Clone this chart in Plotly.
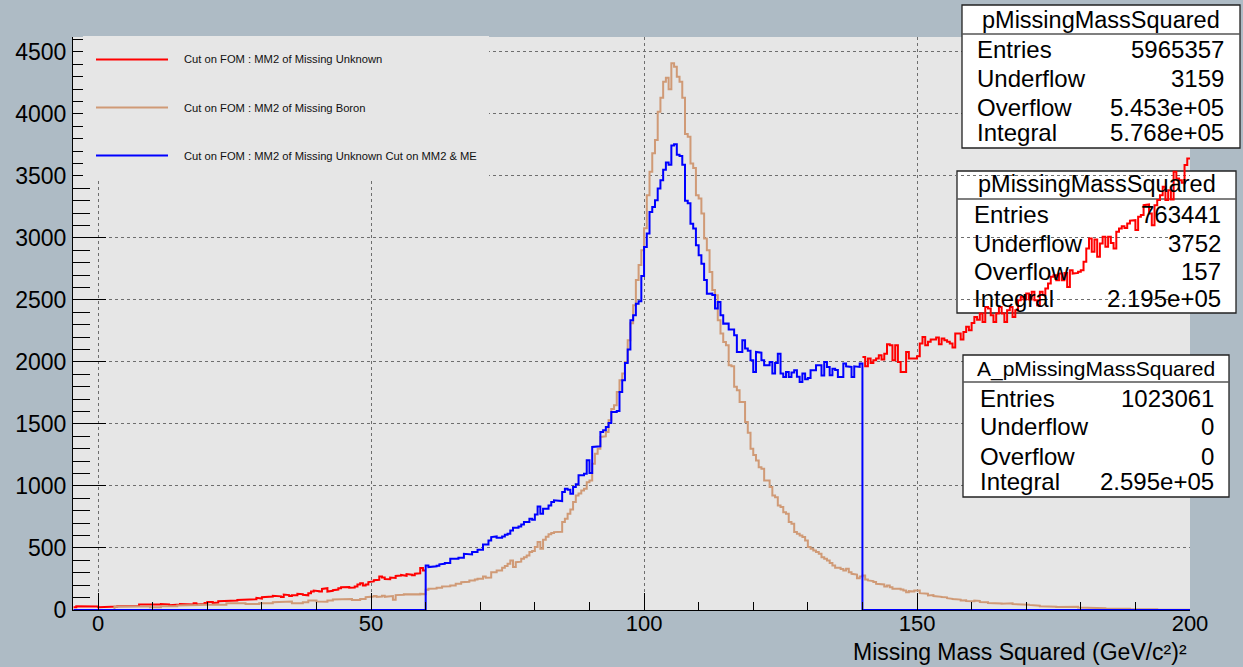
import plotly.graph_objects as go

# ---------------- data (bin contents, 0.5 GeV^2 bins starting at -4.5) ----------------
BIN_LO = -4.5
BIN_W = 0.5

# red: "Cut on FOM : MM2 of Missing Unknown" -- visible part below 60 and above 140
red_low = [
    22, 30, 33, 33, 30, 30, 30, 28, 28, 22,
    22, 22, 22, 22, 24, 28, 30, 30, 36, 36,
    33, 33, 30, 33, 44, 41, 38, 38, 41, 41,
    44, 44, 48, 48, 44, 38, 38, 44, 44, 48,
    48, 46, 44, 44, 55, 44, 44, 48, 57, 65,
    65, 57, 60, 71, 71, 74, 76, 73, 76, 76,
    81, 87, 81, 84, 84, 87, 87, 98, 92, 103,
    103, 103, 108, 114, 114, 110, 105, 125, 120, 112,
    119, 119, 130, 128, 122, 118, 135, 150, 157, 152,
    150, 170, 176, 149, 155, 160, 165, 175, 184, 189,
    186, 180, 182, 189, 205, 216, 197, 205, 225, 230,
    240, 244, 271, 262, 250, 248, 262, 258, 275, 278,
    282, 276, 290, 285, 280, 292, 296, 338, 318,
]
red_high = [
    2040, 1965, 2027, 1992, 2014, 2027, 2054, 2019, 2067, 2143,
    2135, 2014, 2135, 2000, 1919, 1919, 2081, 2027, 2027, 2027,
    2046, 2148, 2202, 2135, 2162, 2180, 2180, 2197, 2143, 2189,
    2175, 2162, 2148, 2116, 2229, 2229, 2180, 2242, 2283, 2256,
    2315, 2363, 2340, 2390, 2323, 2444, 2431, 2377, 2323, 2390,
    2444, 2390, 2323, 2417, 2444, 2363, 2417, 2498, 2525, 2503,
    2552, 2503, 2565, 2498, 2457, 2565, 2540, 2592, 2632, 2686,
    2700, 2659, 2713, 2659, 2718, 2605, 2740, 2713, 2718, 2727,
    2740, 2807, 2915, 2995, 2888, 2987, 2848, 2955, 3009, 2928,
    3009, 2960, 2915, 3049, 3076, 3095, 3080, 3117, 3140, 3143,
    3063, 3170, 3184, 3264, 3270, 3197, 3103, 3264, 3305, 3345,
    3412, 3305, 3385, 3310, 3533, 3480, 3466, 3445, 3587, 3641,
]
RED_GAP_BINS = 160  # 60..140 hidden under the blue histogram

# brown: "Cut on FOM : MM2 of Missing Boron" (all 409 bins)
brown_counts = [
    0, 0, 0, 0, 0, 0, 0, 0, 0, 0,
    0, 0, 0, 0, 0, 28, 30, 31, 29, 30,
    31, 30, 28, 30, 29, 31, 30, 29, 22, 22,
    22, 23, 30, 30, 31, 30, 29, 30, 36, 35,
    36, 37, 36, 35, 41, 41, 42, 40, 41, 44,
    44, 44, 41, 40, 41, 42, 55, 55, 54, 55,
    56, 55, 54, 49, 49, 48, 50, 49, 55, 55,
    54, 56, 55, 63, 63, 64, 62, 63, 68, 68,
    55, 56, 55, 54, 63, 63, 76, 75, 77, 68,
    68, 69, 67, 76, 76, 84, 83, 84, 85, 84,
    89, 89, 81, 82, 80, 89, 88, 103, 104, 109,
    112, 105, 109, 114, 106, 110, 112, 82, 120, 125,
    123, 127, 122, 125, 128, 124, 126, 130, 128, 163,
    171, 168, 174, 179, 180, 190, 188, 192, 198, 198,
    211, 211, 224, 224, 228, 238, 238, 245, 252, 252,
    271, 260, 262, 305, 305, 319, 319, 340, 355, 373,
    400, 346, 386, 390, 413, 426, 440, 467, 475, 507,
    548, 494, 566, 590, 610, 620, 628, 628, 630, 709,
    736, 776, 810, 870, 924, 940, 964, 978, 1031, 1045,
    1180, 1260, 1301, 1395, 1400, 1435, 1529, 1620, 1650, 1758,
    1852, 1906, 2000, 2175, 2312, 2457, 2660, 2782, 2900, 3078,
    3345, 3533, 3682, 3789, 4017, 4130, 4259, 4291, 4198, 4408,
    4380, 4300, 4259, 4130, 3837, 3815, 3600, 3563, 3345, 3318,
    3197, 2995, 2901, 2726, 2580, 2538, 2336, 2229, 2161, 2135,
    1973, 1965, 1800, 1771, 1677, 1677, 1516, 1430, 1300, 1250,
    1206, 1150, 1139, 1045, 1045, 991, 924, 910, 843, 830,
    789, 776, 709, 695, 628, 615, 601, 588, 561, 507,
    494, 480, 467, 453, 426, 413, 399, 378, 359, 340,
    340, 330, 319, 332, 305, 292, 286, 257, 270, 278,
    246, 238, 233, 225, 211, 206, 206, 190, 198, 184,
    171, 175, 171, 165, 157, 144, 152, 150, 157, 157,
    136, 131, 131, 117, 120, 112, 109, 106, 104, 102,
    95, 90, 88, 82, 84, 77, 79, 72, 71, 70,
    77, 74, 65, 63, 62, 57, 58, 55, 56, 52,
    50, 50, 55, 54, 48, 44, 45, 42, 42, 43,
    41, 40, 35, 35, 30, 31, 33, 33, 28, 27,
    25, 22, 23, 22, 22, 21, 23, 27, 20, 16,
    18, 19, 17, 19, 16, 17, 15, 14, 13, 14,
    16, 13, 11, 14, 12, 10, 11, 9, 12, 10,
    8, 9, 7, 8, 9, 6, 7, 5, 6, 7,
    5, 6, 4, 5, 6, 4, 5, 4, 3,
]

# blue: "Cut on FOM : MM2 of Missing Unknown Cut on MM2 & ME" -- non-zero from 60 to 140
blue_counts = [
    359, 346, 352, 352, 357, 368, 373, 378, 378, 413,
    413, 413, 421, 421, 453, 453, 448, 467, 467, 486,
    486, 529, 529, 561, 588, 593, 583, 583, 593, 607,
    615, 642, 663, 663, 674, 690, 709, 709, 736, 728,
    771, 835, 776, 817, 817, 843, 870, 884, 878, 878,
    951, 978, 970, 938, 991, 1013, 1086, 1086, 1099, 1207,
    1105, 1314, 1320, 1320, 1435, 1449, 1476, 1508, 1597, 1597,
    1605, 1758, 1852, 1992, 2100, 2336, 2376, 2470, 2489, 2693,
    2927, 3035, 3210, 3250, 3304, 3398, 3466, 3550, 3609, 3590,
    3745, 3755, 3670, 3660, 3590, 3300, 3280, 3115, 3075, 2941,
    2860, 2792, 2660, 2550, 2551, 2540, 2430, 2484, 2377, 2309,
    2310, 2261, 2261, 2215, 2081, 2081, 2175, 2108, 2090, 2013,
    1919, 2081, 2075, 2013, 1973, 1973, 2000, 1906, 1992, 2067,
    1906, 1879, 1919, 1879, 1915, 1933, 1880, 1839, 1906, 1860,
    1870, 1933, 1933, 1973, 1973, 1890, 2000, 1960, 1892, 1946,
    1935, 1879, 1879, 1987, 1965, 1960, 1879, 1965, 1960, 1987,
]
BLUE_ZERO_BEFORE = 129
BLUE_ZERO_AFTER = 120

legend_labels = [
    "Cut on FOM : MM2 of Missing Unknown",
    "Cut on FOM : MM2 of Missing Boron",
    "Cut on FOM : MM2 of Missing Unknown Cut on MM2 & ME",
]

stats_titles = ["pMissingMassSquared", "pMissingMassSquared", "A_pMissingMassSquared"]
stats_keys = ["Entries", "Underflow", "Overflow", "Integral"]
stats_values = [
    ["5965357", "3159", "5.453e+05", "5.768e+05"],
    ["763441", "3752", "157", "2.195e+05"],
    ["1023061", "0", "0", "2.595e+05"],
]

x_title = "Missing Mass Squared (GeV/c²)²"

# ---------------- helpers ----------------
W, H = 1243, 667
ML, MR, MT, MB = 73, 53, 37, 57
PW = W - ML - MR
PH = H - MT - MB
FONT = "Liberation Sans, Arial, Helvetica, sans-serif"


def pxx(xp):
    return (xp - ML) / PW


def pxy(yp):
    return (H - MB - yp) / PH


def steps(vals):
    xs, ys = [], []
    for i, v in enumerate(vals):
        lo = BIN_LO + i * BIN_W
        if v is None:
            xs.append(None)
            ys.append(None)
            continue
        xs += [lo, lo + BIN_W]
        ys += [v, v]
    return xs, ys


red_full = red_low + [None] * RED_GAP_BINS + red_high
blue_full = [0] * BLUE_ZERO_BEFORE + blue_counts + [0] * BLUE_ZERO_AFTER

RED = "#ff0000"
BROWN = "rgb(208,154,118)"
BLUE = "#0000ff"

fig = go.Figure()
for vals, col, name in [(red_full, RED, legend_labels[0]),
                        (brown_counts, BROWN, legend_labels[1]),
                        (blue_full, BLUE, legend_labels[2])]:
    xs, ys = steps(vals)
    fig.add_trace(go.Scatter(x=xs, y=ys, mode="lines", name=name,
                             line=dict(color=col, width=2),
                             cliponaxis=False, showlegend=False,
                             hoverinfo="skip"))

shapes = []
annotations = []

# legend (drawn manually, ROOT style)
shapes.append(dict(type="rect", xref="paper", yref="paper",
                   x0=pxx(83), x1=pxx(489), y0=pxy(178), y1=pxy(36),
                   fillcolor="#e6e6e6", line=dict(width=0), layer="above"))
leg_y = [59.5, 107.5, 155.5]
for lab, col, yy in zip(legend_labels, [RED, BROWN, BLUE], leg_y):
    shapes.append(dict(type="line", xref="paper", yref="paper",
                       x0=pxx(96), x1=pxx(168), y0=pxy(yy), y1=pxy(yy),
                       line=dict(color=col, width=2), layer="above"))
    annotations.append(dict(text=lab, xref="paper", yref="paper",
                            x=pxx(182), y=pxy(yy), xanchor="left", yanchor="middle",
                            showarrow=False, font=dict(family=FONT, size=11.2, color="#111")))

# stats boxes
boxes = [
    dict(x0=962, x1=1240, y0=5, y1=148, sep=34, ty=20, rows=[49, 78, 107, 133],
         lx=975, rx=1226, layer="above", tsize=23.5),
    dict(x0=957, x1=1236, y0=171, y1=313, sep=199, ty=184, rows=[214, 243, 271, 298],
         lx=972, rx=1223, layer="between", tsize=23.5),
    dict(x0=963, x1=1229, y0=355, y1=497, sep=382, ty=369, rows=[398, 427, 456, 481],
         lx=978, rx=1216, layer="above", tsize=21),
]
for b, title, vals in zip(boxes, stats_titles, stats_values):
    shapes.append(dict(type="rect", xref="paper", yref="paper",
                       x0=pxx(b["x0"]), x1=pxx(b["x1"]), y0=pxy(b["y1"]), y1=pxy(b["y0"]),
                       fillcolor="white", line=dict(color="#222", width=1.3), layer=b["layer"]))
    shapes.append(dict(type="line", xref="paper", yref="paper",
                       x0=pxx(b["x0"]), x1=pxx(b["x1"]), y0=pxy(b["sep"]), y1=pxy(b["sep"]),
                       line=dict(color="#555", width=1.3), layer=b["layer"]))
    annotations.append(dict(text=title, xref="paper", yref="paper",
                            x=pxx((b["x0"] + b["x1"]) / 2), y=pxy(b["ty"]),
                            xanchor="center", yanchor="middle", showarrow=False,
                            font=dict(family=FONT, size=b["tsize"], color="black")))
    for key, val, ry in zip(stats_keys, vals, b["rows"]):
        annotations.append(dict(text=key, xref="paper", yref="paper",
                                x=pxx(b["lx"]), y=pxy(ry), xanchor="left", yanchor="middle",
                                showarrow=False, font=dict(family=FONT, size=24, color="black")))
        annotations.append(dict(text=val, xref="paper", yref="paper",
                                x=pxx(b["rx"]), y=pxy(ry), xanchor="right", yanchor="middle",
                                showarrow=False, font=dict(family=FONT, size=24, color="black")))

# x-axis title, right aligned like ROOT
annotations.append(dict(text=x_title, xref="paper", yref="paper",
                        x=pxx(1189), y=pxy(652), xanchor="right", yanchor="middle",
                        showarrow=False, font=dict(family=FONT, size=23, color="black")))

fig.update_layout(
    width=W, height=H,
    margin=dict(l=ML, r=MR, t=MT, b=MB, pad=0),
    paper_bgcolor="#aebbc5",
    plot_bgcolor="#e6e6e6",
    showlegend=False,
    shapes=shapes,
    annotations=annotations,
    font=dict(family=FONT, color="black"),
    xaxis=dict(range=[-4.6, 200], tick0=0, dtick=50, ticks="inside", ticklen=17,
               tickwidth=1, tickcolor="black", showline=True, linecolor="black",
               linewidth=1, zeroline=False, showgrid=True, gridcolor="#6e6e6e",
               griddash="dot", gridwidth=1, ticklabelstandoff=-6,
               tickfont=dict(family=FONT, size=22, color="black"),
               minor=dict(ticks="inside", ticklen=8, dtick=10, tickcolor="black",
                          tickwidth=1, showgrid=False)),
    yaxis=dict(range=[0, 4620], tick0=0, dtick=500, ticks="inside", ticklen=33,
               tickwidth=1, tickcolor="black", showline=True, linecolor="black",
               linewidth=1, zeroline=False, showgrid=True, gridcolor="#6e6e6e",
               griddash="dot", gridwidth=1, ticklabelstandoff=1,
               tickfont=dict(family=FONT, size=23, color="black"),
               minor=dict(ticks="inside", ticklen=17, dtick=100, tickcolor="black",
                          tickwidth=1, showgrid=False)),
)

fig.write_html("out.html", config={"displayModeBar": False})
